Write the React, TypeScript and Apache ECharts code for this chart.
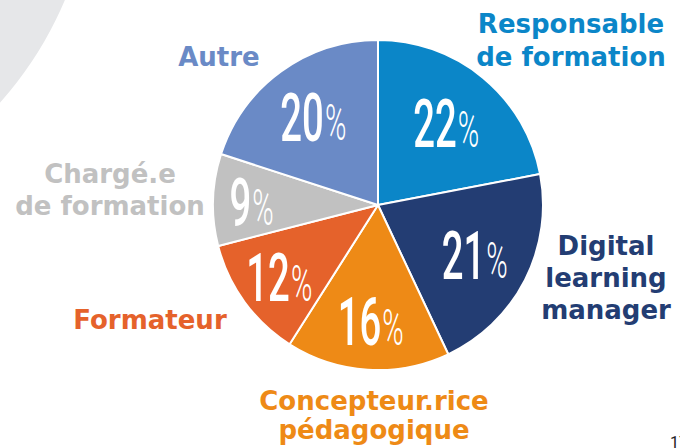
import React, { useEffect, useRef } from "react";
import * as echarts from "echarts";

const CATEGORIES = [
  "Responsable\nde formation",
  "Digital\nlearning\nmanager",
  "Concepteur.rice\npédagogique",
  "Formateur",
  "Chargé.e\nde formation",
  "Autre",
];
const VALUES = [22, 21, 16, 12, 9, 20];
const COLORS = ["#0B86C8", "#233D73", "#EE8A16", "#E5622B", "#C1C1C1", "#6A8AC6"];

// layout of the outer name labels (block centres, px) and line heights
const NAME_POS: [number, number][] = [
  [571, 40],
  [606, 278],
  [374, 415],
  [150, 320],
  [110, 190],
  [219, 57],
];
const NAME_LH = [33, 32, 29, 32, 32, 32];

const CX = 378;
const CY = 205;
const R = 165;

export default function App() {
  const ref = useRef<HTMLDivElement>(null);
  useEffect(() => {
    if (!ref.current) return;
    const chart = echarts.init(ref.current, null, { renderer: "svg" });
    const total = VALUES.reduce((a, b) => a + b, 0);
    let cum = 0;
    const labelData = VALUES.map((v) => {
      const mid = cum + v / 2;
      cum += v;
      const pct = Math.round((v / total) * 100);
      return [140 - 1.5 * pct, (mid / total) * 100, pct];
    });
    chart.setOption({
      animation: false,
      graphic: [
        {
          type: "circle",
          shape: { cx: -277, cy: -144, r: 371 },
          style: { fill: "#E6E7E9" },
          z: -10,
        },
        {
          type: "text",
          x: 670,
          y: 434,
          style: { text: "17", fontSize: 16, fill: "#222", fontFamily: "Roboto" },
        },
      ],
      polar: { center: [CX, CY], radius: R },
      angleAxis: { type: "value", min: 0, max: 100, startAngle: 90, clockwise: true, show: false },
      radiusAxis: { type: "value", min: 0, max: R, show: false },
      series: [
        {
          type: "pie",
          center: [CX, CY],
          radius: [0, R],
          startAngle: 90,
          clockwise: true,
          silent: true,
          itemStyle: { borderColor: "#fff", borderWidth: 2 },
          labelLine: { show: false },
          label: {
            show: true,
            position: "outside",
            formatter: "{b}",
            fontFamily: "DejaVu Sans",
            fontWeight: "bold",
            fontSize: 26,
            align: "center",
            overflow: "none",
            width: 300,
          },
          labelLayout: (params: any) => {
            const p = NAME_POS[params.dataIndex];
            return { x: p[0], y: p[1], align: "center", verticalAlign: "middle" };
          },
          data: CATEGORIES.map((name, i) => ({
            name,
            value: VALUES[i],
            itemStyle: { color: COLORS[i] },
            label: { color: COLORS[i], lineHeight: NAME_LH[i] },
          })),
        },
        {
          type: "custom",
          coordinateSystem: "polar",
          silent: true,
          z: 10,
          data: labelData,
          renderItem: (params: any, api: any) => {
            const pt = api.coord([api.value(0), api.value(1)]);
            return {
              type: "text",
              x: pt[0],
              y: pt[1],
              scaleX: 0.58,
              style: {
                text: "{n|" + api.value(2) + "}{p|%}",
                align: "center",
                verticalAlign: "middle",
                fill: "#fff",
                rich: {
                  n: {
                    fontFamily: "Roboto",
                    fontWeight: 500,
                    fontSize: 66,
                    lineHeight: 70,
                    fill: "#fff",
                    verticalAlign: "bottom",
                  },
                  p: {
                    fontFamily: "Roboto",
                    fontWeight: 300,
                    fontSize: 50,
                    lineHeight: 70,
                    fill: "#fff",
                    verticalAlign: "bottom",
                    padding: [0, 0, 3, 2],
                  },
                },
              },
            };
          },
        },
      ],
    });
    return () => chart.dispose();
  }, []);
  return <div ref={ref} style={{ width: 680, height: 448, position: "absolute", left: 0, top: 0 }} />;
}
